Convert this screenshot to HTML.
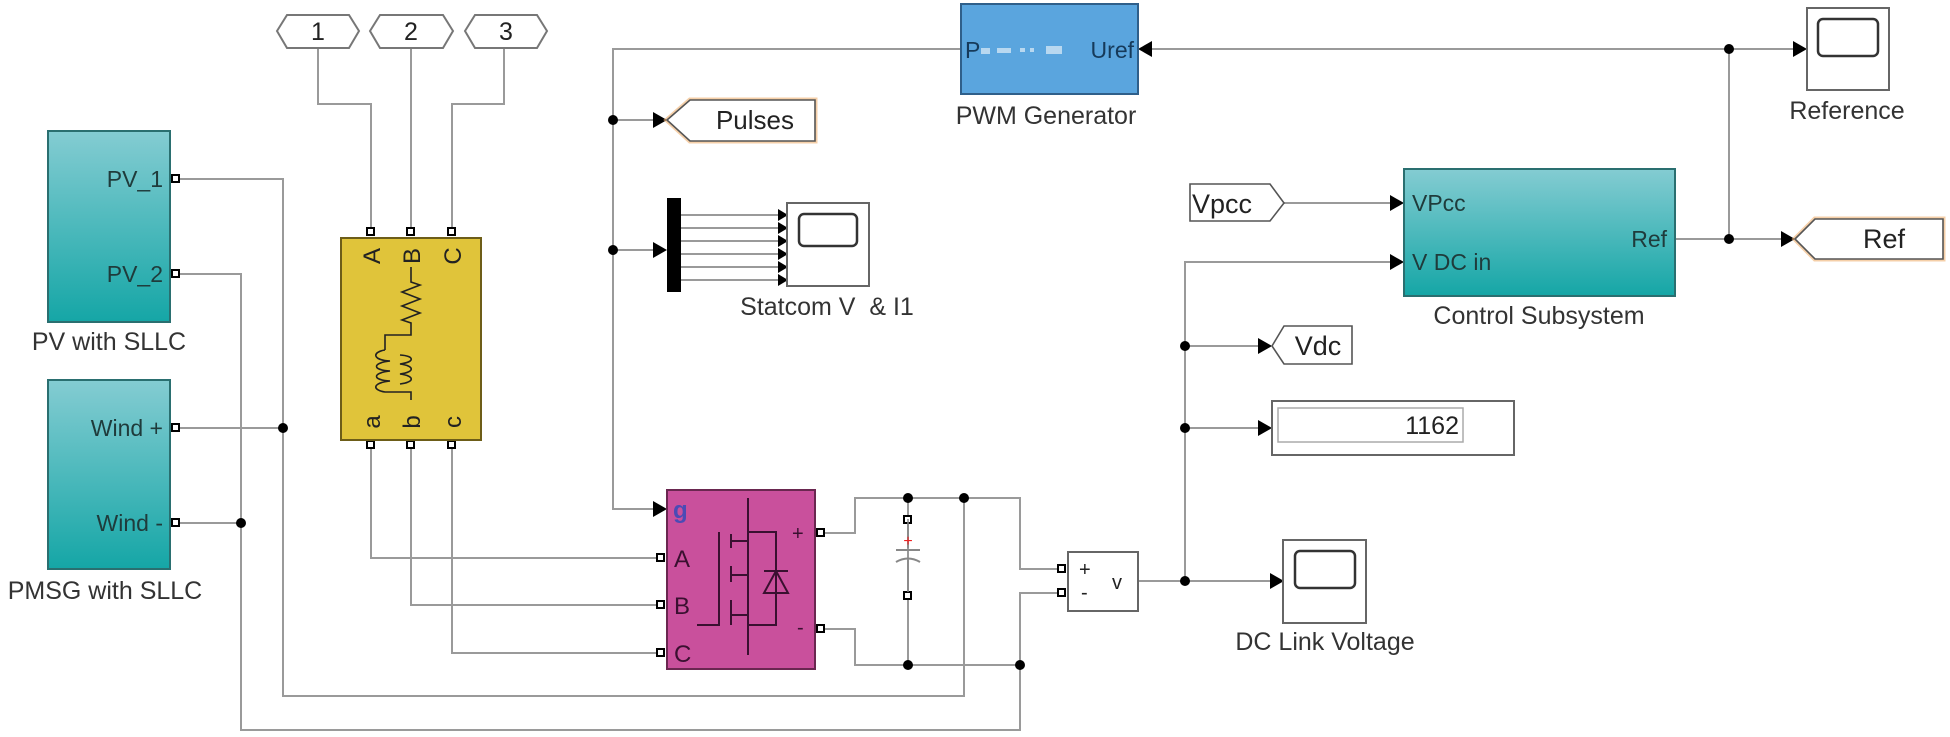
<!DOCTYPE html>
<html><head><meta charset="utf-8"><style>
html,body{margin:0;padding:0;background:#fff;width:1950px;height:737px;overflow:hidden}
text{font-family:"Liberation Sans",sans-serif}
</style></head><body>
<svg width="1950" height="737" viewBox="0 0 1950 737" xmlns="http://www.w3.org/2000/svg">
<defs>
<linearGradient id="teal" x1="0" y1="0" x2="0" y2="1"><stop offset="0" stop-color="#84ccd2"/><stop offset="1" stop-color="#15a6a6"/></linearGradient>
</defs>
<g fill="none" stroke="#9a9a9a" stroke-width="2">
<polyline points="318,49 318,104 371,104 371,232"/>
<polyline points="411,49 411,232"/>
<polyline points="504,49 504,104 452,104 452,232"/>
<polyline points="371,444 371,558 659,558"/>
<polyline points="411,444 411,605 659,605"/>
<polyline points="452,444 452,653 659,653"/>
<polyline points="177,179 283,179 283,696 964,696 964,498"/>
<polyline points="177,274 241,274 241,730 1020,730 1020,593 1062,593"/>
<polyline points="177,428 283,428"/>
<polyline points="177,523 241,523"/>
<polyline points="961,49 613,49 613,509 657,509"/>
<line x1="613" y1="120" x2="655" y2="120"/>
<line x1="613" y1="250" x2="657" y2="250"/>
<line x1="681" y1="215" x2="778" y2="215"/><line x1="681" y1="228" x2="778" y2="228"/><line x1="681" y1="241" x2="778" y2="241"/><line x1="681" y1="254" x2="778" y2="254"/><line x1="681" y1="267" x2="778" y2="267"/><line x1="681" y1="280" x2="778" y2="280"/>
<polyline points="821,533 855,533 855,498 1020,498 1020,569 1062,569"/>
<polyline points="821,629 855,629 855,665 1020,665"/>
<line x1="908" y1="498" x2="908" y2="665"/>
<line x1="1148" y1="49" x2="1797" y2="49"/>
<line x1="1729" y1="49" x2="1729" y2="239"/>
<line x1="1675" y1="239" x2="1782" y2="239"/>
<line x1="1284" y1="203" x2="1396" y2="203"/>
<polyline points="1396,262 1185,262 1185,581"/>
<line x1="1138" y1="581" x2="1273" y2="581"/>
<line x1="1185" y1="346" x2="1260" y2="346"/>
<line x1="1185" y1="428" x2="1260" y2="428"/>
</g>
<g fill="#000">
<path d="M653,112 L667,120 L653,128 z"/>
<path d="M653,242 L667,250 L653,258 z"/>
<path d="M653,501 L667,509 L653,517 z"/>
<path d="M1152,41 L1138,49 L1152,57 z"/>
<path d="M1793,41 L1807,49 L1793,57 z"/>
<path d="M1390,195 L1404,203 L1390,211 z"/>
<path d="M1390,254 L1404,262 L1390,270 z"/>
<path d="M1781,231 L1795,239 L1781,247 z"/>
<path d="M1258,338 L1272,346 L1258,354 z"/>
<path d="M1258,420 L1272,428 L1258,436 z"/>
<path d="M1270,573 L1284,581 L1270,589 z"/>
<path d="M778,209 L788,215 L778,221z"/><path d="M778,222 L788,228 L778,234z"/><path d="M778,235 L788,241 L778,247z"/><path d="M778,248 L788,254 L778,260z"/><path d="M778,261 L788,267 L778,273z"/><path d="M778,274 L788,280 L778,286z"/>
<circle cx="283" cy="428" r="5"/><circle cx="241" cy="523" r="5"/>
<circle cx="613" cy="120" r="5"/><circle cx="613" cy="250" r="5"/>
<circle cx="908" cy="498" r="5"/><circle cx="908" cy="665" r="5"/>
<circle cx="964" cy="498" r="5"/><circle cx="1020" cy="665" r="5"/>
<circle cx="1729" cy="49" r="5"/><circle cx="1729" cy="239" r="5"/>
<circle cx="1185" cy="346" r="5"/><circle cx="1185" cy="428" r="5"/><circle cx="1185" cy="581" r="5"/>
</g>
<g fill="#fff" stroke="#777" stroke-width="2">
<path d="M277,31 L287,15 L349,15 L359,31 L349,48 L287,48 z"/>
<path d="M370,31 L380,15 L443,15 L453,31 L443,48 L380,48 z"/>
<path d="M465,31 L475,15 L537,15 L547,31 L537,48 L475,48 z"/>
</g>
<g font-size="25" text-anchor="middle" fill="#222"><text x="318" y="40">1</text><text x="411" y="40">2</text><text x="506" y="40">3</text></g>
<rect x="48" y="131" width="122" height="191" fill="url(#teal)" stroke="#2a6f70" stroke-width="2"/>
<rect x="48" y="380" width="122" height="189" fill="url(#teal)" stroke="#2a6f70" stroke-width="2"/>
<g font-size="23" fill="#1f3b3b" text-anchor="end">
<text x="163" y="187">PV_1</text><text x="163" y="282">PV_2</text>
<text x="163" y="436">Wind +</text><text x="163" y="531">Wind -</text>
</g>
<g font-size="25" fill="#333" text-anchor="middle">
<text x="109" y="350">PV with SLLC</text><text x="105" y="599">PMSG with SLLC</text>
<text x="827" y="315" xml:space="preserve">Statcom V  &amp; I1</text>
<text x="1046" y="124">PWM Generator</text>
<text x="1847" y="119">Reference</text>
<text x="1539" y="324">Control Subsystem</text>
<text x="1325" y="650">DC Link Voltage</text>
</g>
<g fill="#fff" stroke="#000" stroke-width="2">
<rect x="172" y="175" width="7" height="7"/><rect x="172" y="270" width="7" height="7"/>
<rect x="172" y="424" width="7" height="7"/><rect x="172" y="519" width="7" height="7"/>
<rect x="367" y="228" width="7" height="7"/><rect x="407" y="228" width="7" height="7"/><rect x="448" y="228" width="7" height="7"/>
<rect x="367" y="441" width="7" height="7"/><rect x="407" y="441" width="7" height="7"/><rect x="448" y="441" width="7" height="7"/>
<rect x="657" y="554" width="7" height="7"/><rect x="657" y="601" width="7" height="7"/><rect x="657" y="649" width="7" height="7"/>
<rect x="817" y="529" width="7" height="7"/><rect x="817" y="625" width="7" height="7"/>
<rect x="904" y="516" width="7" height="7"/><rect x="904" y="592" width="7" height="7"/>
<rect x="1058" y="565" width="7" height="7"/><rect x="1058" y="589" width="7" height="7"/>
</g>
<rect x="341" y="238" width="140" height="202" fill="#e0c43a" stroke="#6d5d18" stroke-width="2"/>
<g font-size="24" fill="#222" text-anchor="middle">
<text transform="translate(380,256) rotate(-90)">A</text>
<text transform="translate(420,256) rotate(-90)">B</text>
<text transform="translate(461,256) rotate(-90)">C</text>
<text transform="translate(380,422) rotate(-90)">a</text>
<text transform="translate(420,422) rotate(-90)">b</text>
<text transform="translate(461,422) rotate(-90)">c</text>
</g>
<path d="M411,267 L411,282 L420,285 L402,292 L420,299 L402,306 L420,313 L402,320 L411,323 L411,335 L385,335 L385,350" fill="none" stroke="#222" stroke-width="1.6"/>
<path d="M385,350 C372,352 372,360 390,361 C372,363 372,370 390,371 C372,373 372,380 390,381 C372,383 372,390 385,392 L411,392 L411,400 M400,355 C415,356 415,362 400,364 C415,366 415,372 400,374 C415,376 415,382 400,384" fill="none" stroke="#222" stroke-width="1.6"/>
<rect x="667" y="490" width="148" height="179" fill="#c9509c" stroke="#6a2750" stroke-width="2"/>
<text x="673" y="518" font-size="24" font-weight="bold" fill="#4b4bb5">g</text>
<g font-size="24" fill="#3a1030"><text x="674" y="567">A</text><text x="674" y="614">B</text><text x="674" y="662">C</text></g>
<g font-size="20" fill="#3a1030"><text x="792" y="540">+</text><text x="797" y="634">-</text></g>
<g fill="none" stroke="#3a1030" stroke-width="2">
<line x1="748" y1="498" x2="748" y2="655"/>
<polyline points="697,625 719,625 719,532"/>
<line x1="731" y1="534" x2="731" y2="548"/><line x1="731" y1="566" x2="731" y2="582"/><line x1="731" y1="600" x2="731" y2="625"/>
<line x1="731" y1="541" x2="748" y2="541"/><line x1="731" y1="575" x2="748" y2="575"/><line x1="731" y1="615" x2="748" y2="615"/>
<polyline points="748,532 776,532 776,625 748,625"/>
<path d="M764,593 L788,593 L776,571 z M764,571 L788,571"/>
</g>
<line x1="908" y1="519" x2="908" y2="548" stroke="#888" stroke-width="1.5"/>
<line x1="896" y1="550" x2="920" y2="550" stroke="#888" stroke-width="2"/>
<path d="M896,562 Q908,555 920,562" fill="none" stroke="#888" stroke-width="2"/>
<line x1="908" y1="560" x2="908" y2="592" stroke="#888" stroke-width="1.5"/>
<text x="908" y="546" font-size="16" fill="#e22" text-anchor="middle">+</text>
<path d="M667,120 L690,100 L815,100 L815,141 L690,141 z" fill="#fff" stroke="#f0b070" stroke-width="5" opacity="0.6"/>
<path d="M667,120 L690,100 L815,100 L815,141 L690,141 z" fill="#fff" stroke="#555" stroke-width="1.6"/>
<text x="755" y="129" font-size="26" fill="#222" text-anchor="middle">Pulses</text>
<rect x="667" y="198" width="14" height="94" fill="#000"/>
<g fill="#fff" stroke="#666" stroke-width="2">
<rect x="787" y="203" width="82" height="83"/>
<rect x="1807" y="8" width="82" height="82"/>
<rect x="1283" y="540" width="83" height="83"/>
</g>
<g fill="#fff" stroke="#333" stroke-width="2.5">
<rect x="799" y="214" width="58" height="32" rx="5"/>
<rect x="1818" y="19" width="60" height="37" rx="5"/>
<rect x="1295" y="551" width="60" height="37" rx="5"/>
</g>
<rect x="961" y="4" width="177" height="90" fill="#5aa5de" stroke="#2f5f8a" stroke-width="2"/>
<text x="965" y="58" font-size="23" fill="#163a5a">P</text>
<text x="1134" y="58" font-size="23" fill="#163a5a" text-anchor="end">Uref</text>
<g fill="#b8d8f0"><rect x="981" y="48" width="9" height="6"/><rect x="997" y="48" width="14" height="5"/><rect x="1020" y="48" width="5" height="4"/><rect x="1030" y="48" width="4" height="4"/><rect x="1046" y="46" width="16" height="8"/></g>
<rect x="1404" y="169" width="271" height="127" fill="url(#teal)" stroke="#2a6f70" stroke-width="2"/>
<g font-size="23" fill="#1f3b3b"><text x="1412" y="211">VPcc</text><text x="1412" y="270">V DC in</text><text x="1667" y="247" text-anchor="end">Ref</text></g>
<path d="M1190,184 L1270,184 L1284,203 L1270,221 L1190,221 z" fill="#fff" stroke="#555" stroke-width="1.6"/>
<text x="1192" y="213" font-size="27" fill="#222">Vpcc</text>
<path d="M1795,239 L1815,219 L1943,219 L1943,259 L1815,259 z" fill="#fff" stroke="#f0b070" stroke-width="5" opacity="0.6"/>
<path d="M1795,239 L1815,219 L1943,219 L1943,259 L1815,259 z" fill="#fff" stroke="#555" stroke-width="1.6"/>
<text x="1884" y="248" font-size="27" fill="#222" text-anchor="middle">Ref</text>
<path d="M1272,346 L1284,326 L1352,326 L1352,364 L1284,364 z" fill="#fff" stroke="#555" stroke-width="1.6"/>
<text x="1318" y="355" font-size="27" fill="#222" text-anchor="middle">Vdc</text>
<rect x="1272" y="401" width="242" height="54" fill="#fff" stroke="#666" stroke-width="2"/>
<rect x="1278" y="408" width="185" height="34" fill="#fff" stroke="#aaa" stroke-width="1.5"/>
<text x="1459" y="434" font-size="25" fill="#222" text-anchor="end">1162</text>
<rect x="1068" y="552" width="70" height="59" fill="#fff" stroke="#666" stroke-width="2"/>
<g font-size="20" fill="#222"><text x="1079" y="576">+</text><text x="1081" y="599">-</text><text x="1112" y="589">v</text></g>
</svg>
</body></html>
